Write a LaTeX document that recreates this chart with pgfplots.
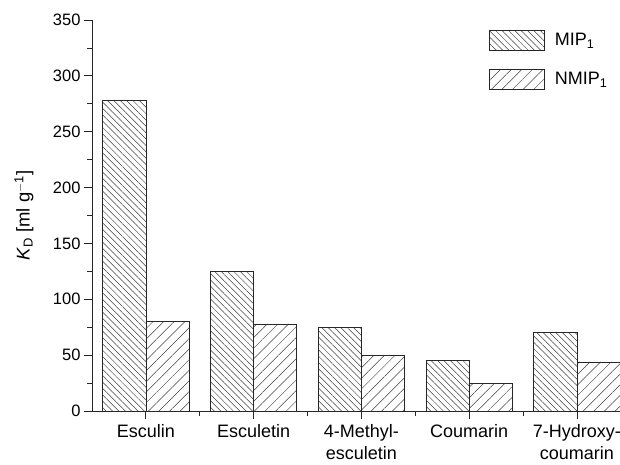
\documentclass[border=0pt]{standalone}
\usepackage{pgfplots}
\pgfplotsset{compat=1.18}
\usepackage{fontspec}
\setmainfont{Liberation Sans}
\usetikzlibrary{patterns.meta}
\begin{document}
\begin{tikzpicture}
\begin{axis}[
  at={(0pt,0pt)}, anchor=south west,
  scale only axis, width=528pt, height=391pt,
  axis x line*=bottom, axis y line*=left,
  axis line style={line width=0.8pt, black!85},
  xmin=0.5, xmax=5.4, ymin=0, ymax=350,
  ytick={0,50,...,350}, minor ytick={25,75,...,325},
  xtick={1,2,3,4,5}, minor xtick={1.5,2.5,3.5,4.5},
  xticklabels={Esculin, Esculetin, {4-Methyl-\\esculetin}, Coumarin, {7-Hydroxy-\\coumarin}},
  xticklabel style={align=center, text depth=0pt, font=\fontsize{18}{22}\selectfont, yshift=-2pt},
  yticklabel style={font=\fontsize{16.5}{18}\selectfont},
  /pgf/number format/assume math mode=true,
  tick align=outside,
  major tick length=8pt, minor tick length=5pt,
  tick style={line width=0.8pt, black!85},
  ylabel={\fontsize{18.5}{22}\selectfont\textit{K}\textsubscript{D} [ml g\textsuperscript{$-$1}]},
  ylabel style={at={(axis description cs:0,0.5)}, anchor=south, yshift=55pt},
  ybar, bar width=0.4, bar shift auto,
  legend style={at={(rel axis cs:0.752,0.975)}, anchor=north west, draw=none, fill=none,
     font=\fontsize{18}{20}\selectfont, row sep=18pt, inner sep=0pt, nodes={inner sep=0pt}},
  legend cell align=left,
  legend image code/.code={\draw[#1] (0pt,-10pt) rectangle (55pt,10pt);},
]
\addplot+[ybar, bar shift=-0.2, draw=black!85, line width=0.7pt, fill=none,
  pattern={Lines[angle=-45,distance=4.5pt,line width=0.5pt]}, pattern color=black!75]
  coordinates {(1,278) (2,125) (3,75) (4,45) (5,70)};
\addplot+[ybar, bar shift=0.2, draw=black!85, line width=0.7pt, fill=none,
  pattern={Lines[angle=45,distance=7.5pt,line width=0.5pt]}, pattern color=black!75]
  coordinates {(1,80) (2,78) (3,50) (4,25) (5,44)};
\legend{\hspace{10pt}MIP\textsubscript{1}, \hspace{10pt}NMIP\textsubscript{1}}
\end{axis}
\pgfresetboundingbox
\path (-92pt,-53pt) rectangle (528pt,411pt);
\end{tikzpicture}
\end{document}
